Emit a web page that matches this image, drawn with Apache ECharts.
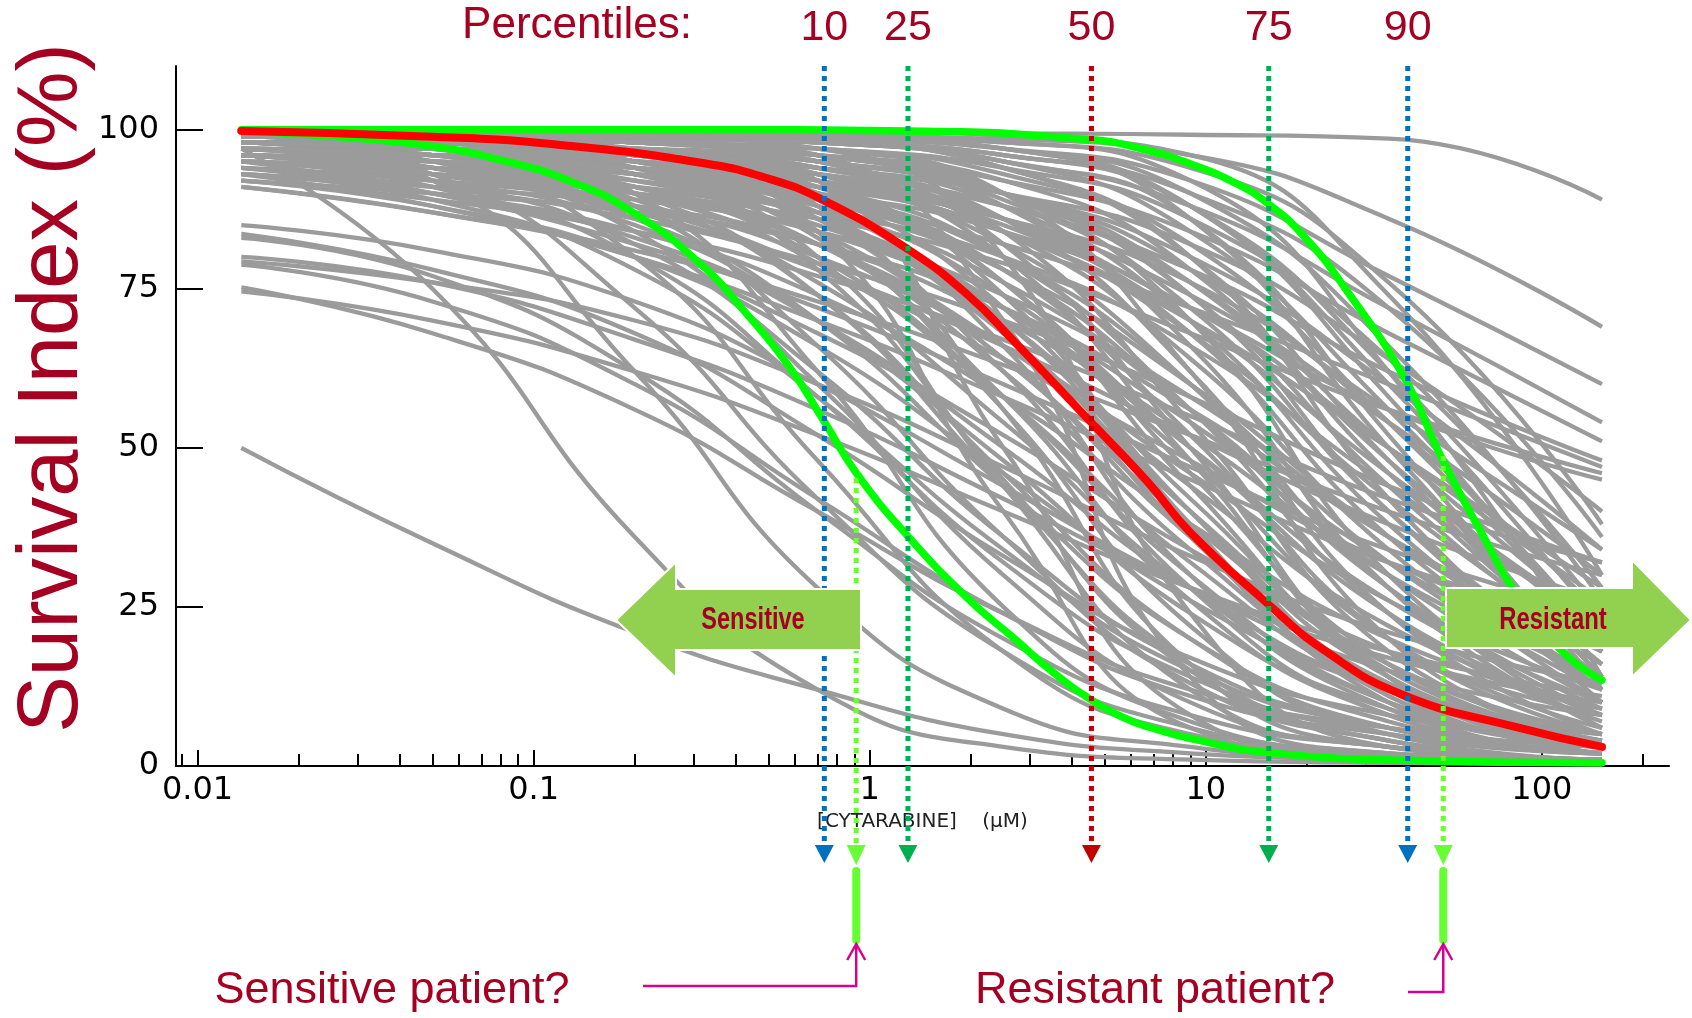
<!DOCTYPE html>
<html>
<head>
<meta charset="utf-8">
<script src="https://cdn.jsdelivr.net/npm/echarts@6/dist/echarts.min.js"></script>
<style>
html,body{margin:0;padding:0;background:#ffffff;}
#chart{width:1692px;height:1018px;}
</style>
</head>
<body>
<div id="chart"></div>
<script>
// ---------------- DATA ----------------
// concentration grid (µM) at which every grey patient curve was read
const GRID_X = [0.0135, 0.05, 0.2, 0.7, 2.5, 9, 35, 151];

// survival index (%) of each grey patient curve at GRID_X
const GRAY_CURVES = [
  // resistant, top of the bundle
  [99.5, 99.5, 99.5, 99.5, 99.4, 99.2, 98.6, 89],
  [99, 99, 99, 99, 98.5, 96, 86, 69],
  [99, 99, 99, 98.5, 97, 92, 77, 60],
  [99, 99, 98.5, 98, 95, 88, 72, 54],
  [98, 98, 97, 96, 92, 84, 68, 51],
  [97, 96, 95, 93, 88, 78, 62, 48],
  [96, 95, 93, 89, 82, 72, 60, 47],
  [95, 93, 90, 86, 79, 68, 56, 46],
  [98, 97, 96, 93, 86, 72, 56, 45],
  // curves that start low
  [50, 35, 21, 12, 5, 2, 1, 0.5],
  [85, 81, 73, 60, 44, 28, 15, 8],
  [83.6, 78, 68, 52, 33, 17, 8, 4],
  [83, 77, 62, 40, 20, 8, 3, 1],
  [80, 76, 67, 56, 42, 28, 17, 10],
  [79.3, 76, 70, 60, 47, 33, 21, 13],
  [78.8, 73, 60, 42, 24, 11, 5, 2],
  [75.2, 68, 56, 40, 24, 12, 6, 3],
  [74.6, 70, 62, 52, 40, 28, 18, 11],
  // steep, very sensitive
  [97, 75, 36, 12, 3, 1, 0.5, 0.3],
  [98, 92, 62, 28, 9, 3, 1, 0.5],
  [98, 93, 72, 42, 18, 6, 2, 1],
  // sensitive
  [98, 95, 80, 48, 18, 5, 1.5, 0.5],
  [97, 94, 84, 60, 30, 10, 3, 1],
  [95, 91, 80, 58, 32, 14, 5, 2],
  [99, 98, 90, 62, 25, 7, 2, 0.5],
  [96, 92, 82, 62, 36, 16, 6, 2],
  [93, 89, 78, 58, 34, 15, 6, 2],
  [99, 97, 88, 66, 36, 13, 4, 1],
  [94, 90, 83, 70, 50, 28, 12, 5],
  [97, 95, 89, 74, 46, 20, 6, 2],
  [92, 88, 80, 66, 46, 26, 12, 5],
  [99, 98, 94, 78, 45, 15, 4, 1],
  [95, 93, 88, 76, 54, 28, 10, 3],
  [98, 96, 91, 80, 58, 30, 10, 3],
  [91, 87, 80, 68, 52, 34, 18, 8],
  [96, 94, 90, 82, 64, 36, 13, 4],
  [96, 93, 86, 70, 44, 20, 7, 2],
  [98, 96, 90, 74, 44, 16, 4, 1],
  [95, 92, 85, 70, 48, 24, 9, 3],
  [99, 98, 95, 84, 56, 22, 5, 1],
  [93, 90, 84, 74, 58, 38, 20, 9],
  [97, 95, 90, 79, 58, 32, 12, 4],
  // around the median
  [99, 98, 95, 86, 62, 28, 8, 2],
  [98, 97, 94, 87, 68, 36, 11, 3],
  [97, 96, 93, 86, 70, 42, 15, 4],
  [99, 99, 97, 92, 74, 38, 10, 2],
  [96, 94, 90, 82, 66, 44, 22, 9],
  [98, 97, 95, 90, 78, 52, 20, 5],
  [99, 98, 97, 93, 80, 48, 14, 3],
  [94, 92, 88, 80, 66, 46, 26, 12],
  [97, 96, 94, 88, 74, 50, 24, 8],
  [99, 99, 98, 95, 84, 54, 18, 4],
  [95, 93, 90, 84, 72, 54, 32, 14],
  [98, 97, 96, 92, 82, 60, 28, 8],
  [99, 98, 97, 94, 86, 62, 24, 5],
  [93, 91, 88, 82, 70, 52, 30, 14],
  [97, 96, 94, 90, 80, 60, 32, 12],
  [99, 99, 98, 96, 88, 66, 28, 6],
  [96, 95, 93, 88, 78, 60, 36, 16],
  [98, 98, 97, 94, 86, 68, 36, 12],
  [100, 99, 98, 96, 90, 70, 30, 6],
  [92, 90, 87, 82, 72, 56, 36, 18],
  [99, 98, 95, 88, 70, 40, 14, 4],
  [97, 95, 91, 82, 62, 34, 12, 3],
  [98, 97, 95, 90, 76, 46, 16, 4],
  [96, 95, 92, 86, 72, 48, 20, 6],
  [100, 99, 99, 97, 90, 62, 20, 3],
  [99, 99, 98, 95, 82, 50, 14, 2],
  [95, 94, 92, 87, 76, 56, 30, 10],
  [98, 97, 96, 93, 84, 64, 34, 10],
  [99, 98, 96, 89, 66, 30, 9, 2],
  [97, 95, 92, 84, 64, 38, 16, 5],
  [98, 97, 93, 83, 58, 26, 8, 2],
  [96, 94, 91, 85, 72, 50, 26, 10],
  [99, 98, 96, 91, 76, 44, 14, 3],
  [94, 92, 89, 84, 74, 58, 36, 18],
  [98, 97, 95, 91, 80, 56, 24, 7],
  [97, 96, 93, 86, 68, 40, 16, 5],
  [99, 98, 96, 90, 72, 40, 12, 2],
  [97, 96, 94, 89, 78, 56, 28, 9],
  // steep, reaching zero near 10 µM
  [99, 99, 98, 92, 50, 8, 1, 0.3],
  [98, 97, 95, 84, 40, 6, 1, 0.3],
  [99, 99, 99, 96, 70, 14, 2, 0.5],
  [97, 96, 93, 80, 44, 12, 3, 1],
  [99, 98, 96, 88, 56, 16, 3, 1],
  [100, 100, 99, 97, 80, 24, 3, 0.5],
  // resistant
  [99, 99, 98, 96, 90, 74, 44, 16],
  [100, 99, 99, 98, 94, 80, 48, 14],
  [98, 98, 97, 95, 90, 78, 54, 24],
  [99, 99, 99, 98, 95, 84, 56, 20],
  [97, 96, 95, 92, 86, 74, 54, 30],
  [100, 100, 99, 99, 97, 88, 60, 22],
  [99, 98, 97, 95, 90, 80, 60, 34],
  [100, 100, 100, 99, 97, 90, 66, 26],
  [98, 97, 96, 94, 90, 82, 64, 40],
  [99, 99, 99, 98, 96, 90, 72, 36],
  [100, 100, 99, 99, 98, 94, 76, 38],
  [99, 99, 98, 97, 94, 86, 64, 28],
  [100, 99, 99, 98, 96, 88, 58, 18],
  [99, 99, 99, 98, 95, 86, 52, 12],
  [100, 100, 100, 99, 98, 92, 62, 14],
  [98, 97, 96, 93, 88, 76, 50, 22],
  [100, 100, 100, 100, 99, 96, 74, 30],
  [99, 98, 96, 92, 84, 70, 50, 28],
  [97, 96, 94, 91, 84, 68, 42, 18],
  [99, 99, 98, 96, 90, 74, 40, 12],
  [100, 99, 98, 96, 92, 78, 46, 16],
  [96, 95, 93, 90, 84, 72, 50, 26],
  [99, 98, 97, 95, 90, 76, 48, 20],
  [98, 97, 96, 94, 88, 70, 38, 12],
  [95, 93, 91, 87, 80, 66, 44, 22],
  [100, 100, 99, 98, 94, 80, 42, 10],
  [99, 99, 98, 97, 93, 82, 54, 20],
  [98, 98, 97, 95, 89, 72, 40, 14],
  [99, 99, 99, 98, 96, 88, 62, 24],
  [100, 100, 100, 99, 97, 86, 50, 14],
  [96, 95, 94, 91, 86, 76, 56, 34],
  [98, 97, 95, 92, 85, 70, 46, 22],
  // shallow slopes
  [95, 90, 82, 72, 60, 47, 34, 24],
  [93, 88, 80, 70, 58, 45, 32, 22],
  [97, 94, 88, 78, 64, 48, 32, 20],
  [91, 87, 81, 73, 63, 52, 40, 30],
  [96, 93, 87, 78, 66, 52, 38, 26],
  [94, 91, 86, 79, 70, 58, 44, 32],
  [92, 89, 84, 77, 67, 55, 42, 32]
];

// median curve (red)
const RED_X = [0.0135, 0.05, 0.12, 0.315, 0.5, 0.735, 1.3, 1.97, 2.67, 4.56, 6.7, 9.0, 15.3, 22.5, 38.5, 84, 151];
const RED_Y = [99.8, 98.9, 97.6, 94.8, 92.3, 88.8, 81.2, 73.9, 66.9, 54.0, 44.7, 36.7, 25.5, 18.2, 11.2, 6.1, 3.0];

// sensitive reference curve (green, lower)
const GREEN_LO_X = [0.0135, 0.0258, 0.051, 0.080, 0.127, 0.2, 0.315, 0.428, 0.579, 0.735, 0.914, 1.3, 1.97, 2.67, 3.5, 4.56, 5.5, 6.7, 10, 15.3, 37.7, 151];
const GREEN_LO_Y = [99.8, 98.9, 97.3, 95.2, 92.0, 86.8, 78.8, 71.2, 62.6, 54.0, 46.0, 36.1, 26.2, 20.2, 14.8, 10.4, 8.0, 6.2, 3.8, 2.1, 0.9, 0.5];

// resistant reference curve (green, upper)
const GREEN_HI_X = [0.0135, 0.3, 1.3, 4.57, 6.65, 9.03, 12.25, 15.2, 19.4, 26.2, 39.5, 49.5, 66.5, 87.5, 117.6, 151];
const GREEN_HI_Y = [100, 100, 99.8, 98.4, 96.8, 94.6, 91.6, 88.5, 83.5, 74.8, 60.5, 49.2, 36.4, 25.6, 17.5, 13.5];

// percentiles of the concentration distribution
const PCT_LABELS = ['10', '25', '50', '75', '90'];
const PCT_X = [0.733, 1.30, 4.57, 15.4, 39.9];

// two example patients
const PATIENT_X = [0.912, 50.9];
const PATIENT_LABELS = ['Sensitive patient?', 'Resistant patient?'];

// axes
const X_TICKS = [0.01, 0.1, 1, 10, 100];
const X_TICK_LABELS = ['0.01', '0.1', '1', '10', '100'];
const X_MINOR = [0.009, 0.02, 0.03, 0.04, 0.05, 0.06, 0.07, 0.08, 0.09,
                 0.2, 0.3, 0.4, 0.5, 0.6, 0.7, 0.8, 0.9,
                 2, 3, 4, 5, 6, 7, 8, 9,
                 20, 30, 40, 50, 60, 70, 80, 90, 200];
const Y_TICKS = [0, 25, 50, 75, 100];

// ---------------- STYLE / LAYOUT ----------------
const CRIMSON = '#A50021';
const PCT_COLORS = ['#0070C0', '#00B050', '#C00000', '#00B050', '#0070C0'];
const PATIENT_COLOR = '#66FF33';
const LINK_COLOR = '#D9008C';
const ARROW_FILL = '#92D050';
const LAYOUT = {
  pctTop: 66, lineBottom: 846, tipY: 863,
  pctLabelY: 28,
  patientTop: [478, 456],
  barTop: 871, barBottom: 940,
  linkStartX: [643, 1408], linkY: [986, 992], linkTop: 944,
  patientTextX: [392, 1155], patientTextY: 991
};
const SHADOW = {shadowColor: 'rgba(0,0,0,0.35)', shadowBlur: 3, shadowOffsetX: 2, shadowOffsetY: 2};

function pairs(xs, ys) { return xs.map((x, i) => [x, ys[i]]); }

const chart = echarts.init(document.getElementById('chart'), null, {renderer: 'canvas'});

const series = [];
GRAY_CURVES.forEach((vals, k) => {
  series.push({
    type: 'line', name: 'patient ' + (k + 1), xAxisIndex: 0, yAxisIndex: 0,
    data: GRID_X.map((x, j) => [x, vals[j]]),
    smooth: 0.5, symbol: 'none', silent: true, z: 2,
    lineStyle: {color: '#9b9b9b', width: 4.3}
  });
});
[[GREEN_LO_X, GREEN_LO_Y], [GREEN_HI_X, GREEN_HI_Y]].forEach(([xs, ys]) => {
  series.push({
    type: 'line', data: pairs(xs, ys), smooth: 0.5, symbol: 'none', silent: true, z: 3,
    lineStyle: {color: '#00FF00', width: 7.5, cap: 'round'}
  });
});
series.push({
  type: 'line', data: pairs(RED_X, RED_Y), smooth: 0.5, symbol: 'none', silent: true, z: 4,
  lineStyle: {color: '#FF0000', width: 8, cap: 'round'}
});

// percentile dotted arrows + labels
series.push({
  type: 'custom', coordinateSystem: 'cartesian2d', clip: false, silent: true, z: 10,
  data: PCT_X.map((x, i) => [x, i]),
  renderItem: function (params, api) {
    const i = api.value(1);
    const px = api.coord([api.value(0), 50])[0];
    const col = PCT_COLORS[i];
    return {type: 'group', children: [
      {type: 'line', shape: {x1: px, y1: LAYOUT.pctTop, x2: px, y2: LAYOUT.lineBottom},
       style: {stroke: col, lineWidth: 5, lineDash: [5, 5]}},
      {type: 'polygon', shape: {points: [[px - 9.5, LAYOUT.lineBottom - 1], [px + 9.5, LAYOUT.lineBottom - 1], [px, LAYOUT.tipY]]},
       style: {fill: col}},
      {type: 'text', x: px, y: LAYOUT.pctLabelY,
       style: Object.assign({text: PCT_LABELS[i], fill: CRIMSON, font: '43px "Liberation Sans", Arial, sans-serif',
              align: 'center', verticalAlign: 'middle'}, SHADOW)}
    ]};
  }
});

// patient markers
series.push({
  type: 'custom', coordinateSystem: 'cartesian2d', clip: false, silent: true, z: 10,
  data: PATIENT_X.map((x, i) => [x, i]),
  renderItem: function (params, api) {
    const i = api.value(1);
    const px = api.coord([api.value(0), 50])[0];
    return {type: 'group', children: [
      {type: 'line', shape: {x1: px, y1: LAYOUT.patientTop[i], x2: px, y2: LAYOUT.lineBottom},
       style: {stroke: PATIENT_COLOR, lineWidth: 5, lineDash: [5, 5]}},
      {type: 'polygon', shape: {points: [[px - 9.5, LAYOUT.lineBottom - 1], [px + 9.5, LAYOUT.lineBottom - 1], [px, LAYOUT.tipY + 2]]},
       style: {fill: PATIENT_COLOR}},
      {type: 'line', shape: {x1: px, y1: LAYOUT.barTop, x2: px, y2: LAYOUT.barBottom},
       style: {stroke: PATIENT_COLOR, lineWidth: 8, lineCap: 'round'}},
      {type: 'polyline', shape: {points: [[LAYOUT.linkStartX[i], LAYOUT.linkY[i]], [px, LAYOUT.linkY[i]], [px, LAYOUT.linkTop]]},
       style: {stroke: LINK_COLOR, lineWidth: 2.5, fill: null}},
      {type: 'polyline', shape: {points: [[px - 9, LAYOUT.linkTop + 16], [px, LAYOUT.linkTop], [px + 9, LAYOUT.linkTop + 16]]},
       style: {stroke: LINK_COLOR, lineWidth: 2.5, fill: null}},
      {type: 'text', x: LAYOUT.patientTextX[i], y: LAYOUT.patientTextY,
       style: Object.assign({text: PATIENT_LABELS[i], fill: CRIMSON, font: '45px "Liberation Sans", Arial, sans-serif',
              align: 'center', verticalAlign: 'middle'}, SHADOW)}
    ]};
  }
});

const TICK_FONT = {fontFamily: '"DejaVu Sans", sans-serif', fontSize: 32, color: '#000'};

const option = {
  animation: false,
  backgroundColor: '#ffffff',
  grid: {left: 176, right: 23, top: 66, bottom: 252, containLabel: false},
  xAxis: [{
    type: 'log', logBase: 10, min: 0.00863, max: 239,
    name: '[CYTARABINE]    (µM)', nameLocation: 'middle', nameGap: 40,
    nameTextStyle: {fontFamily: '"DejaVu Sans", sans-serif', fontSize: 20, color: '#222'},
    axisLine: {show: true, lineStyle: {color: '#000', width: 2}},
    axisTick: {show: true, inside: true, length: 16, lineStyle: {color: '#000', width: 2}, customValues: X_TICKS},
    axisLabel: Object.assign({show: true, margin: 9, customValues: X_TICKS,
      formatter: function (v) {
        let best = 0;
        X_TICKS.forEach((t, i) => { if (Math.abs(Math.log10(t) - Math.log10(v)) < Math.abs(Math.log10(X_TICKS[best]) - Math.log10(v))) best = i; });
        return X_TICK_LABELS[best];
      }}, TICK_FONT),
    splitLine: {show: false}, minorTick: {show: false}
  }, {
    type: 'log', logBase: 10, min: 0.00863, max: 239, position: 'bottom',
    axisLine: {show: false},
    axisTick: {show: true, inside: true, length: 12, lineStyle: {color: '#000', width: 2}, customValues: X_MINOR},
    axisLabel: {show: false},
    splitLine: {show: false}
  }],
  yAxis: {
    type: 'value', min: 0, max: 110,
    axisLine: {show: true, lineStyle: {color: '#000', width: 2}},
    axisTick: {show: true, inside: true, length: 27, lineStyle: {color: '#000', width: 2}, customValues: Y_TICKS},
    axisLabel: Object.assign({show: true, margin: 17, customValues: Y_TICKS}, TICK_FONT),
    splitLine: {show: false}
  },
  graphic: [
    {type: 'text', x: 54, y: 388, rotation: Math.PI / 2, z: 100,
     style: Object.assign({text: 'Survival Index (%)', fill: CRIMSON, font: '85px "Liberation Sans", Arial, sans-serif',
            align: 'center', verticalAlign: 'middle'}, SHADOW)},
    {type: 'text', x: 577, y: 26, z: 100,
     style: Object.assign({text: 'Percentiles:', fill: CRIMSON, font: '44px "Liberation Sans", Arial, sans-serif',
            align: 'center', verticalAlign: 'middle'}, SHADOW)},
    {type: 'polygon', z: 100,
     shape: {points: [[616, 620], [676, 562], [676, 589], [861, 589], [861, 650], [676, 650], [676, 678]]},
     style: {fill: ARROW_FILL, stroke: '#ffffff', lineWidth: 2}},
    {type: 'text', x: 753, y: 620, scaleX: 0.76, z: 101,
     style: Object.assign({text: 'Sensitive', fill: CRIMSON, font: 'bold 31px "Liberation Sans", Arial, sans-serif',
            align: 'center', verticalAlign: 'middle'}, SHADOW)},
    {type: 'polygon', z: 100,
     shape: {points: [[1446, 588], [1632, 588], [1632, 560], [1691, 620], [1632, 677], [1632, 648], [1446, 648]]},
     style: {fill: ARROW_FILL, stroke: '#ffffff', lineWidth: 2}},
    {type: 'text', x: 1553, y: 620, scaleX: 0.77, z: 101,
     style: Object.assign({text: 'Resistant', fill: CRIMSON, font: 'bold 31px "Liberation Sans", Arial, sans-serif',
            align: 'center', verticalAlign: 'middle'}, SHADOW)}
  ],
  series: series
};
chart.setOption(option);
</script>
</body>
</html>
